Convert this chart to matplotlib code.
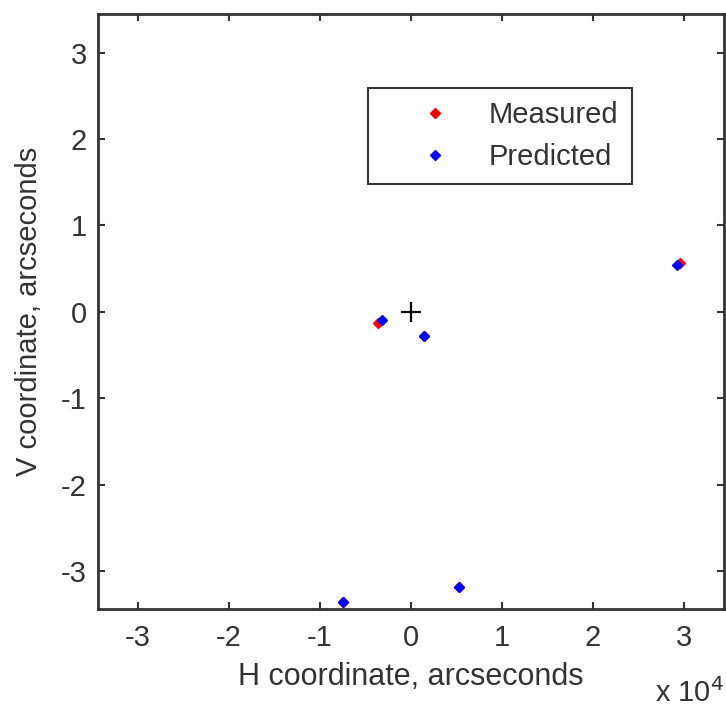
import matplotlib.pyplot as plt
import matplotlib.ticker as ticker

plt.rcParams['font.family'] = ['Liberation Sans', 'DejaVu Sans']
plt.rcParams['axes.unicode_minus'] = False

# --- data (H in arcseconds, V in arcseconds) ---
h_measured = [-3600, 1470, -7500, 5300, 29600]
v_measured = [-0.13, -0.275, -3.36, -3.18, 0.57]
h_predicted = [-3200, 1470, -7500, 5300, 29200]
v_predicted = [-0.09, -0.275, -3.36, -3.18, 0.545]
ticks = [-3, -2, -1, 0, 1, 2, 3]

fig = plt.figure(figsize=(7.26, 7.11), dpi=100)
ax = fig.add_axes([0.135, 0.1435, 0.862, 0.837])

ax.plot(h_measured, v_measured, 'D', color='red', markersize=5.5, label='Measured')
ax.plot(h_predicted, v_predicted, 'D', color='blue', markersize=5.5, label='Predicted')
ax.plot([0], [0], '+', color='black', markersize=14, markeredgewidth=1.6)

ax.set_xlim(-34400, 34400)
ax.set_ylim(-3.44, 3.45)
ax.set_xticks([t * 1e4 for t in ticks])
ax.xaxis.set_major_formatter(ticker.FuncFormatter(lambda v, p: f'{v / 1e4:g}'))
ax.set_yticks(ticks)

ax.tick_params(direction='in', top=True, right=True, length=5, width=1.5,
               labelsize=21, colors='#333333', pad=8)
ax.tick_params(axis='x', pad=11)
for s in ax.spines.values():
    s.set_linewidth(2)
    s.set_color('#333333')

ax.set_xlabel('H coordinate, arcseconds', fontsize=22, color='#333333', labelpad=7)
ax.set_ylabel('V coordinate, arcseconds', fontsize=21, color='#333333', labelpad=13)
fig.text(0.902, 0.012, 'x 10$^4$', fontsize=21, color='#333333')

leg = ax.legend(loc='upper left', bbox_to_anchor=(0.431, 0.876), fontsize=21,
                frameon=True, fancybox=False, handlelength=3.7, handletextpad=0.0,
                borderpad=0.45, labelspacing=0.48, markerscale=0.9,
                borderaxespad=0)
leg.get_frame().set_edgecolor('black')
leg.get_frame().set_linewidth(1.5)
for t in leg.get_texts():
    t.set_color('#333333')

fig.savefig('out.png', dpi=100)
